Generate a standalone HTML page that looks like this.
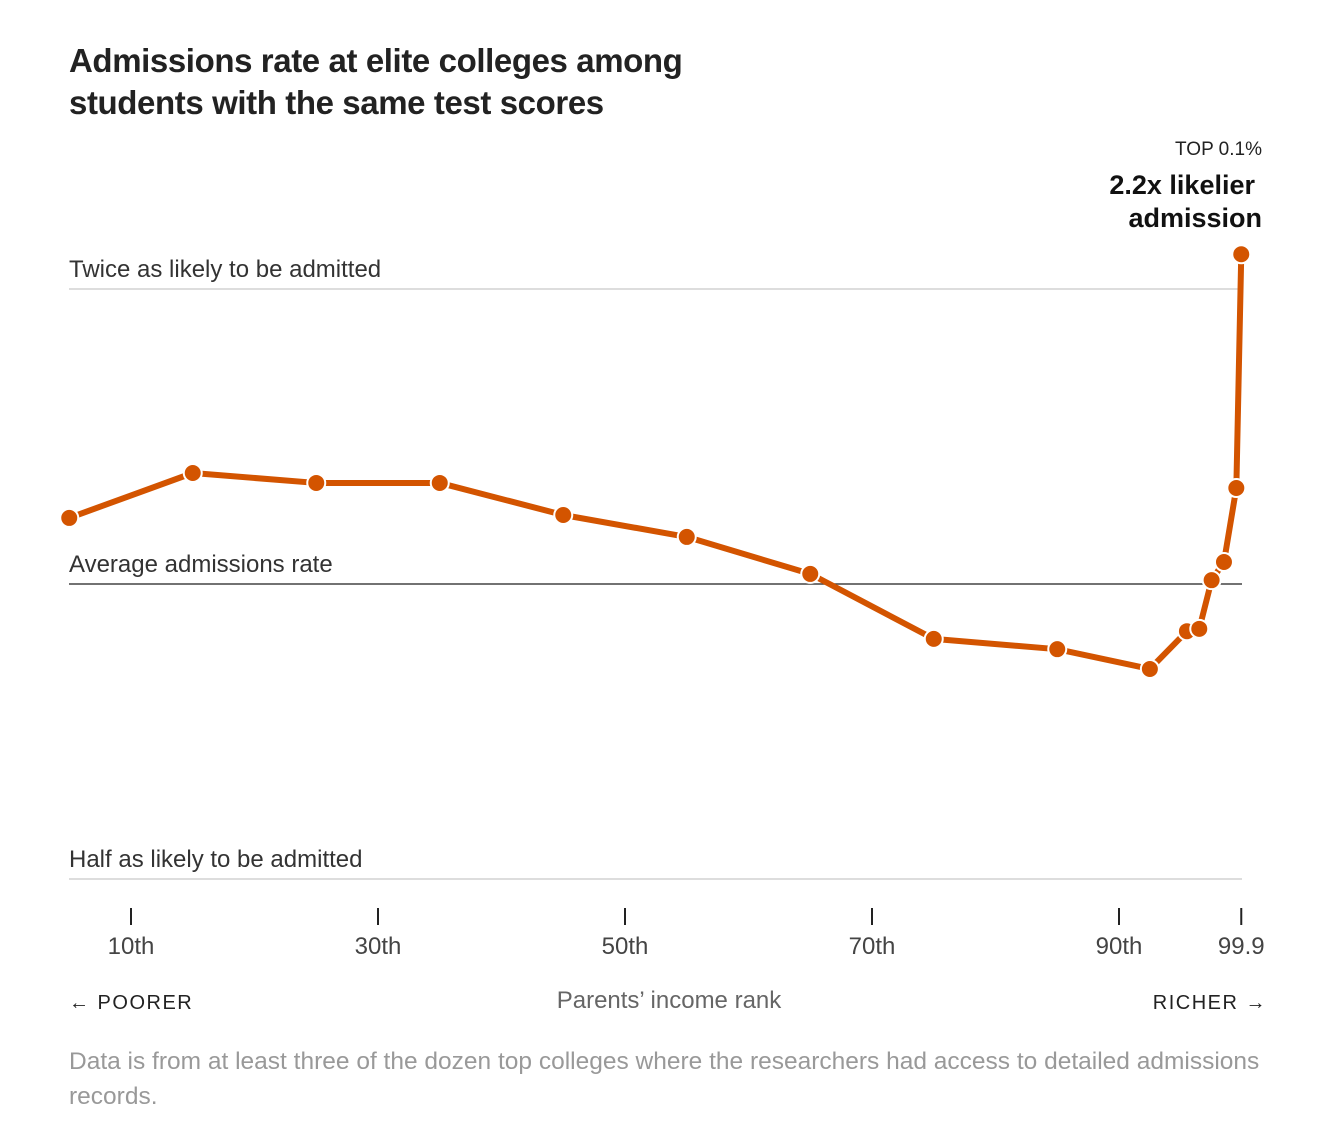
<!DOCTYPE html>
<html><head><meta charset="utf-8">
<style>
body{margin:0;background:#fff;width:1336px;height:1144px;overflow:hidden;font-family:"Liberation Sans",sans-serif;}
#title{position:absolute;left:69px;top:40px;font-size:33px;font-weight:bold;color:#222;line-height:42px;letter-spacing:-0.4px;}
#note{position:absolute;left:69px;top:1044px;width:1205px;font-size:24.5px;color:#999;line-height:35px;}
svg{position:absolute;left:0;top:0;}
</style></head><body>
<div id="title">Admissions rate at elite colleges among<br>students with the same test scores</div>
<svg id="chart" width="1336" height="1144"></svg>
<div id="note">Data is from at least three of the dozen top colleges where the researchers had access to detailed admissions records.</div>
<script>
const percentiles=[5,15,25,35,45,55,65,75,85,92.5,95.5,96.5,97.5,98.5,99.5,99.9];
const ratios=[1.168,1.298,1.268,1.268,1.176,1.117,1.024,0.879,0.858,0.819,0.895,0.900,1.009,1.053,1.253,2.17];
const tickValues=[10,30,50,70,90,99.9];
const tickLabels=["10th","30th","50th","70th","90th","99.9"];
const refValues=[2,1,0.5];
const refLabels=["Twice as likely to be admitted","Average admissions rate","Half as likely to be admitted"];

const NS="http://www.w3.org/2000/svg";
const svg=document.getElementById('chart');
function xs(p){return 7.5+12.35*p;}
function ys(r){return 584-295*Math.log2(r);}
function mk(tag,attrs,parent){const e=document.createElementNS(NS,tag);for(const k in attrs)e.setAttribute(k,attrs[k]);(parent||svg).appendChild(e);return e;}
function txt(x,y,s,attrs){const t=mk('text',Object.assign({x:x,y:y,'font-family':'"Liberation Sans",sans-serif'},attrs));t.textContent=s;return t;}

refValues.forEach((v,i)=>{
  const l=mk('line',{x1:69,x2:1242,y1:ys(v),y2:ys(v),stroke:v===1?'#444':'#ddd','stroke-width':v===1?1.5:2});
  
  
  const t=txt(69,ys(v)-12,refLabels[i],{'font-size':24,fill:'#333'});
  
  
});

tickValues.forEach((v,i)=>{
  const x=xs(v);
  const l=mk('line',{x1:x,x2:x,y1:908,y2:925,stroke:'#222','stroke-width':2});
  
  
  const t=txt(x,954,tickLabels[i],{'font-size':24,fill:'#444','text-anchor':'middle'});
  
  
});

const pts=percentiles.map((p,i)=>xs(p)+','+ys(ratios[i])).join(' ');
const line=mk('polyline',{points:pts,fill:'none',stroke:'#d35400','stroke-width':6,'stroke-linejoin':'round'});


percentiles.forEach((p,i)=>{
  const c=mk('circle',{cx:xs(p),cy:ys(ratios[i]),r:9,fill:'#d35400',stroke:'#fff','stroke-width':2});
  
  
});

let t;
t=txt(1262,155,'TOP 0.1%',{'font-size':19,fill:'#222','text-anchor':'end'});


t=txt(1255,194,'2.2x likelier',{'font-size':27,'font-weight':'bold',fill:'#111','text-anchor':'end'});


t=txt(1262,227,'admission',{'font-size':27,'font-weight':'bold',fill:'#111','text-anchor':'end'});


t=txt(69,1009,'← POORER',{'font-size':20,fill:'#222','letter-spacing':'1.5'});


t=txt(1267,1009,'RICHER →',{'font-size':20,fill:'#222','text-anchor':'end','letter-spacing':'1.5'});


t=txt(669,1008,'Parents’ income rank',{'font-size':24,fill:'#666','text-anchor':'middle'});


</script>
</body></html>
